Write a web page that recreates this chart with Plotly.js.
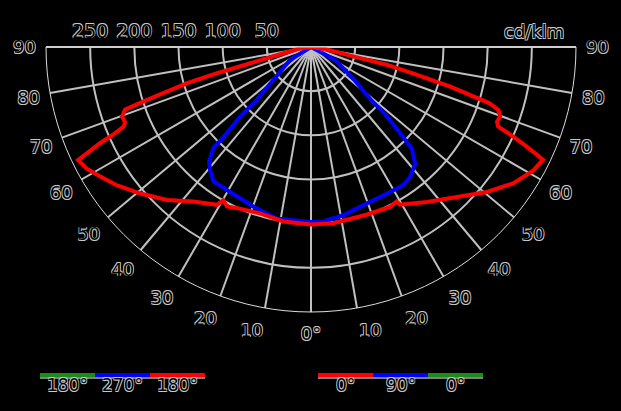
<!DOCTYPE html>
<html>
<head>
<meta charset="utf-8">
<script src="https://cdn.plot.ly/plotly-3.0.1.min.js"></script>
<style>html,body{margin:0;padding:0;background:#000;}</style>
</head>
<body>
<div id="chart" style="width:621px;height:411px;"></div>
<script>
// C0-C180 plane (red): theta in degrees, negative = C180 side (left), positive = C0 side (right)
const redTheta = [-90, -82, -77.2, -75, -74.4, -73.7, -72.1, -71.4, -69.8, -68.1, -67.0, -66.1, -65.5, -64.1,
  -61.6, -58.4, -54.6, -49.5, -43.3, -37.3, -30.8, -29.8, -27.8, -23.8, -17, -9, 0,
  7.2, 18.3, 26.3, 29.0, 29.4, 36.8, 44.9, 50.5, 56, 61, 64.1, 65.2, 66.1, 67.0, 68.1, 69.8, 71.4, 72.5,
  74.1, 75.3, 76.8, 77.4, 82, 90];
const redR = [0, 14, 32, 72, 111, 146, 195, 222, 228, 227, 230, 245, 262, 293,
  289, 280, 270, 255, 238, 220, 208, 200, 204, 200, 197, 200, 201,
  201, 200, 202, 200, 205, 219, 239, 258, 276, 288, 292, 269, 250, 230, 227, 228, 224, 212,
  164, 125, 89, 50, 16, 0];
// C90-C270 plane (blue)
const blueTheta = [-60, -58.2, -48.8, -45.7, -45.5, -44.3, -44.0, -41.6, -39.4, -35.9, -29.2, -19.9, -11.3, 0,
  4, 10.9, 19.6, 27.4, 33.8, 37.4, 41.8, 44.8, 46.2, 47.9, 48.5, 52.7, 62, 62];
const blueR = [0, 28, 57, 86, 113, 137, 159, 174, 180, 188, 188, 192, 198, 198,
  198, 194, 188, 187, 188, 185, 177, 162, 136, 112, 91, 62, 31, 0];

// angular ticks (negative = left side, positive = right side)
const angTickVals = [-90, -80, -70, -60, -50, -40, -30, -20, -10, 0, 10, 20, 30, 40, 50, 60, 70, 80, 90];
const angTickText = ['90', '80', '70', '60', '50', '40', '30', '20', '10', '0°', '10', '20', '30', '40', '50', '60', '70', '80', '90'];
const radTickVals = [50, 100, 150, 200, 250];
const radTickText = ['50', '100', '150', '200', '250'];
const radMax = 300;
const unitLabel = 'cd/klm';

const legendLeft = [{label: '180°', color: '#1a8c1a'}, {label: '270°', color: '#0000ff'}, {label: '180°', color: '#ff0000'}];
const legendRight = [{label: '0°', color: '#ff0000'}, {label: '90°', color: '#0000ff'}, {label: '0°', color: '#1a8c1a'}];

const o = '0.7px', c = '#c8c8c8';
const shadow = `-${o} -${o} 0 ${c}, ${o} -${o} 0 ${c}, -${o} ${o} 0 ${c}, ${o} ${o} 0 ${c}`;
const txtFont = (size) => ({family: 'DejaVu Sans, sans-serif', size: size, color: '#000', shadow: shadow});

const traces = [
  {type: 'scatterpolar', mode: 'lines', theta: blueTheta, r: blueR,
   line: {color: '#0000ff', width: 4}, hoverinfo: 'skip', showlegend: false},
  {type: 'scatterpolar', mode: 'lines', theta: redTheta, r: redR,
   line: {color: '#ff0000', width: 4}, hoverinfo: 'skip', showlegend: false}
];

const W = 621, H = 411;
const shapes = [];
const annotations = [
  {xref: 'paper', yref: 'paper', x: 534 / W, y: 1 - 31 / H, text: unitLabel, showarrow: false,
   font: txtFont(18), xanchor: 'center', yanchor: 'middle'}
];
function addLegend(items, x0) {
  const w = 55;
  items.forEach((it, i) => {
    const a = x0 + i * w, b = a + w;
    shapes.push({type: 'line', xref: 'paper', yref: 'paper', x0: a / W, x1: b / W, y0: 1 - 375 / H, y1: 1 - 375 / H,
      line: {color: it.color, width: 4}});
    shapes.push({type: 'line', xref: 'paper', yref: 'paper', x0: a / W, x1: b / W, y0: 1 - 378 / H, y1: 1 - 378 / H,
      line: {color: '#ffffff', width: 1}});
    annotations.push({xref: 'paper', yref: 'paper', x: (a + b) / 2 / W, y: 1 - 385 / H, text: it.label,
      showarrow: false, font: txtFont(17), xanchor: 'center', yanchor: 'middle'});
  });
}
addLegend(legendLeft, 40);
addLegend(legendRight, 318);

const layout = {
  width: W, height: H, autosize: false,
  margin: {l: 0, r: 0, t: 0, b: 0},
  paper_bgcolor: '#000', plot_bgcolor: '#000',
  showlegend: false,
  font: txtFont(17),
  polar: {
    domain: {x: [46 / W, 576 / W], y: [1 - 312 / H, 1 - 47 / H]},
    sector: [-180, 0],
    bgcolor: '#000',
    radialaxis: {
      range: [0, radMax], tickmode: 'array', tickvals: radTickVals, ticktext: radTickText,
      showline: false, ticks: 'outside', ticklen: 5, tickcolor: 'rgba(0,0,0,0)', angle: -180, side: 'clockwise',
      gridcolor: '#c0c0c0', gridwidth: 2, tickfont: txtFont(19)
    },
    angularaxis: {
      rotation: -90, direction: 'counterclockwise',
      tickmode: 'array', tickvals: angTickVals, ticktext: angTickText,
      ticks: 'outside', ticklen: 6, tickcolor: 'rgba(0,0,0,0)',
      showline: true, linecolor: '#dcdcdc', linewidth: 1,
      gridcolor: '#c0c0c0', gridwidth: 2, tickfont: txtFont(18)
    }
  },
  shapes: shapes,
  annotations: annotations
};

Plotly.newPlot('chart', traces, layout, {staticPlot: true, displayModeBar: false});
</script>
</body>
</html>
